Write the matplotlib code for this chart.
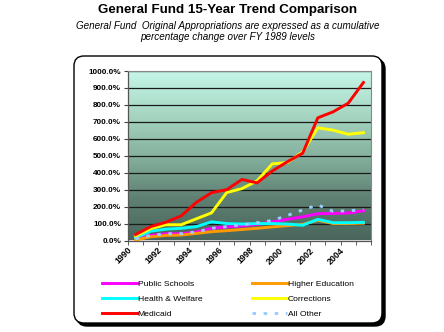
import matplotlib
matplotlib.use("Agg")
import matplotlib.pyplot as plt
import numpy as np
from matplotlib.patches import FancyBboxPatch
from matplotlib.colors import LinearSegmentedColormap
from matplotlib.transforms import IdentityTransform, ScaledTranslation
from matplotlib.ticker import FuncFormatter, MultipleLocator

plt.rcParams["font.family"] = ["Liberation Sans", "DejaVu Sans"]

# Fiscal years and cumulative % change over FY 1989
years = list(range(1990, 2006))
public_schools = [10, 30, 40, 40, 50, 72, 80, 86, 95, 110, 125, 140, 158, 160, 162, 175]
higher_education = [3, 22, 30, 32, 42, 52, 58, 65, 72, 80, 88, 95, 120, 100, 100, 102]
health_welfare = [16, 55, 67, 72, 82, 110, 100, 97, 100, 100, 97, 90, 125, 105, 105, 107]
corrections = [25, 70, 93, 93, 128, 163, 283, 306, 352, 452, 460, 523, 665, 651, 627, 636]
medicaid = [35, 82, 108, 145, 225, 282, 300, 360, 340, 410, 465, 515, 724, 759, 810, 932]
all_other = [10, 30, 40, 40, 50, 72, 82, 92, 105, 118, 148, 180, 210, 172, 175, 182]

series_names = ["Public Schools", "Higher Education", "Health & Welfare",
                "Corrections", "Medicaid", "All Other"]
y_ticks = [0, 100, 200, 300, 400, 500, 600, 700, 800, 900, 1000]

W, H = 444, 332
fig = plt.figure(figsize=(W / 100, H / 100), dpi=100)

# rounded chart frame with drop shadow (pixel coordinates)
px = IdentityTransform()
shadow = FancyBboxPatch((77, H - 326), 308, 267,
                        boxstyle="round,pad=0,rounding_size=10",
                        transform=px, fc="black", ec="black", lw=1, zorder=-2)
frame = FancyBboxPatch((74, H - 323), 308, 267,
                       boxstyle="round,pad=0,rounding_size=10",
                       transform=px, fc="white", ec="black", lw=1, zorder=-1)
fig.patches.extend([shadow, frame])

fig.text(0.512, 0.970, "General Fund 15-Year Trend Comparison",
         ha="center", va="center", fontsize=9.6, fontweight="bold")
fig.text(0.512, 0.905,
         "General Fund  Original Appropriations are expressed as a cumulative\n"
         "percentage change over FY 1989 levels",
         ha="center", va="center", fontsize=7.1, style="italic",
         linespacing=1.1)

ax = fig.add_axes([128 / W, 1 - 240.5 / H, (371 - 128) / W, (240.5 - 71) / H])

x = np.arange(len(years))
ax.set_xlim(-0.5, len(years) - 0.5)
ax.set_ylim(0, 1000)

# shaded plot background
cmap = LinearSegmentedColormap.from_list(
    "bg", ["#4A665C", "#5F8173", "#86B29F", "#A8D8C4", "#C6F6E8"])
ax.imshow(np.linspace(0, 1, 256).reshape(-1, 1), aspect="auto", cmap=cmap,
          origin="lower", extent=[-0.5, len(years) - 0.5, 0, 1000], zorder=0)

ax.set_yticks(y_ticks)
ax.yaxis.set_major_formatter(FuncFormatter(lambda v, p: f"{v:.1f}%"))
ax.yaxis.grid(True, color="#1a1a1a", lw=0.9)
ax.set_axisbelow("line")

ax.set_xticks(x[::2])
ax.set_xticklabels([str(y) for y in years[::2]], rotation=45, ha="right",
                   va="center", rotation_mode="anchor")
ax.xaxis.set_minor_locator(MultipleLocator(1, offset=0.5))
ax.tick_params(axis="x", which="major", length=0, pad=6)
ax.tick_params(axis="x", which="minor", length=3, color="#444444")
ax.tick_params(axis="y", length=3, pad=2, color="#444444")
for lab in ax.get_yticklabels():
    lab.set_fontsize(5.9)
    lab.set_fontweight("bold")
shift = ScaledTranslation(-5 / 100, 0, fig.dpi_scale_trans)
for lab in ax.get_xticklabels():
    lab.set_fontsize(6.4)
    lab.set_fontweight("bold")
    lab.set_transform(lab.get_transform() + shift)

for side in ("top", "right"):
    ax.spines[side].set_color("#888888")
    ax.spines[side].set_linestyle((0, (1, 1)))
    ax.spines[side].set_linewidth(0.8)
for side in ("left", "bottom"):
    ax.spines[side].set_color("#555555")
    ax.spines[side].set_linewidth(0.9)

lw = 2.1
l_ps, = ax.plot(x, public_schools, color="#FF00FF", lw=lw, zorder=3)
l_he, = ax.plot(x, higher_education, color="#FF9900", lw=lw, zorder=3)
l_hw, = ax.plot(x, health_welfare, color="#00FFFF", lw=lw, zorder=3)
l_co, = ax.plot(x, corrections, color="#FFFF00", lw=lw, zorder=3)
l_md, = ax.plot(x, medicaid, color="#FF0000", lw=lw, zorder=3)
l_ao, = ax.plot(x, all_other, color="#99CCFF", lw=lw,
                linestyle=(0, (1.2, 2.6)), zorder=4)

leg_kw = dict(frameon=False, fontsize=6.1, handlelength=4.1, handletextpad=0.1,
              labelspacing=0.8, borderaxespad=0, borderpad=0)
fig.legend([l_ps, l_hw, l_md],
           [series_names[0], series_names[2], series_names[4]],
           loc="upper left", bbox_to_anchor=(102 / W, 1 - 280.5 / H), **leg_kw)
fig.legend([l_he, l_co, l_ao],
           [series_names[1], series_names[3], series_names[5]],
           loc="upper left", bbox_to_anchor=(252 / W, 1 - 280.5 / H), **leg_kw)

fig.savefig("out.png", dpi=100)
